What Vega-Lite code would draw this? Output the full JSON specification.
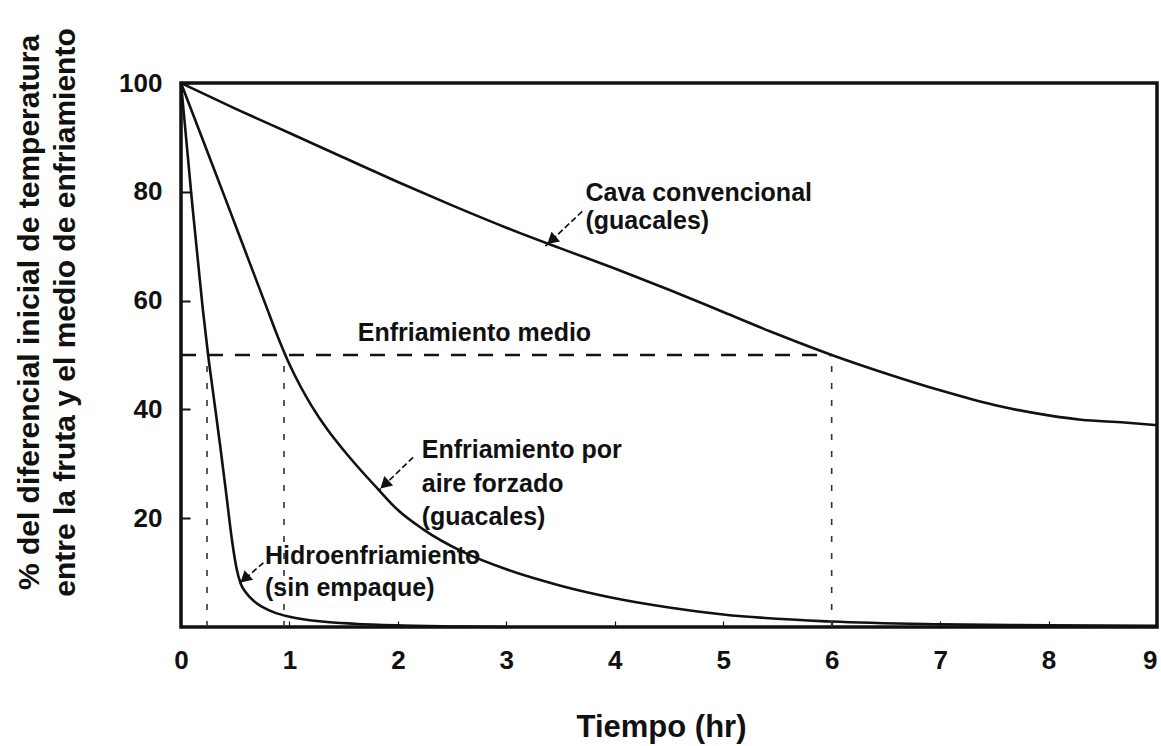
{
  "$schema": "https://vega.github.io/schema/vega-lite/v6.json",
  "width": 976,
  "height": 544,
  "autosize": {"type": "none"},
  "padding": {"left": 181, "top": 83, "right": 4, "bottom": 119},
  "background": "white",
  "config": {
    "font": "Liberation Sans",
    "view": {"stroke": "#111", "strokeWidth": 3.5},
    "axis": {"grid": false, "domain": false, "labelFont": "Liberation Sans", "titleFont": "Liberation Sans", "labelColor": "#111", "titleColor": "#111", "tickColor": "#111"}
  },
  "datasets": {
    "curves": [
      {"serie": "Cava convencional", "t": 0, "pct": 100},
      {"serie": "Cava convencional", "t": 0.5, "pct": 95.3},
      {"serie": "Cava convencional", "t": 1, "pct": 90.8},
      {"serie": "Cava convencional", "t": 1.5, "pct": 86.3},
      {"serie": "Cava convencional", "t": 2, "pct": 81.8},
      {"serie": "Cava convencional", "t": 2.5, "pct": 77.5},
      {"serie": "Cava convencional", "t": 3, "pct": 73.4},
      {"serie": "Cava convencional", "t": 3.5, "pct": 69.6},
      {"serie": "Cava convencional", "t": 4, "pct": 65.9},
      {"serie": "Cava convencional", "t": 4.5, "pct": 62.0},
      {"serie": "Cava convencional", "t": 5, "pct": 57.9},
      {"serie": "Cava convencional", "t": 5.5, "pct": 53.8},
      {"serie": "Cava convencional", "t": 6, "pct": 50.0},
      {"serie": "Cava convencional", "t": 6.5, "pct": 46.6},
      {"serie": "Cava convencional", "t": 7, "pct": 43.5},
      {"serie": "Cava convencional", "t": 7.5, "pct": 40.8},
      {"serie": "Cava convencional", "t": 8, "pct": 38.9},
      {"serie": "Cava convencional", "t": 8.3, "pct": 38.1},
      {"serie": "Cava convencional", "t": 8.7, "pct": 37.6},
      {"serie": "Cava convencional", "t": 9, "pct": 37.1},
      {"serie": "Aire forzado", "t": 0, "pct": 100},
      {"serie": "Aire forzado", "t": 0.2, "pct": 89.6},
      {"serie": "Aire forzado", "t": 0.4, "pct": 79.2},
      {"serie": "Aire forzado", "t": 0.6, "pct": 68.7},
      {"serie": "Aire forzado", "t": 0.8, "pct": 58.2},
      {"serie": "Aire forzado", "t": 0.9, "pct": 53.0},
      {"serie": "Aire forzado", "t": 1.0, "pct": 48.3},
      {"serie": "Aire forzado", "t": 1.1, "pct": 44.3},
      {"serie": "Aire forzado", "t": 1.2, "pct": 40.8},
      {"serie": "Aire forzado", "t": 1.35, "pct": 36.3},
      {"serie": "Aire forzado", "t": 1.5, "pct": 32.5},
      {"serie": "Aire forzado", "t": 1.65, "pct": 29.0},
      {"serie": "Aire forzado", "t": 1.81, "pct": 25.5},
      {"serie": "Aire forzado", "t": 2.0, "pct": 21.5},
      {"serie": "Aire forzado", "t": 2.23, "pct": 18.0},
      {"serie": "Aire forzado", "t": 2.6, "pct": 13.8},
      {"serie": "Aire forzado", "t": 3, "pct": 10.6},
      {"serie": "Aire forzado", "t": 3.5, "pct": 7.6},
      {"serie": "Aire forzado", "t": 4, "pct": 5.3},
      {"serie": "Aire forzado", "t": 4.5, "pct": 3.6},
      {"serie": "Aire forzado", "t": 5, "pct": 2.3},
      {"serie": "Aire forzado", "t": 6, "pct": 1.0},
      {"serie": "Aire forzado", "t": 7, "pct": 0.5},
      {"serie": "Aire forzado", "t": 8, "pct": 0.3},
      {"serie": "Aire forzado", "t": 9, "pct": 0.2},
      {"serie": "Hidroenfriamiento", "t": 0, "pct": 100},
      {"serie": "Hidroenfriamiento", "t": 0.1, "pct": 78.5},
      {"serie": "Hidroenfriamiento", "t": 0.2, "pct": 58.6},
      {"serie": "Hidroenfriamiento", "t": 0.25, "pct": 50.0},
      {"serie": "Hidroenfriamiento", "t": 0.3, "pct": 42.5},
      {"serie": "Hidroenfriamiento", "t": 0.36, "pct": 33.5},
      {"serie": "Hidroenfriamiento", "t": 0.42, "pct": 24.0},
      {"serie": "Hidroenfriamiento", "t": 0.47, "pct": 16.0},
      {"serie": "Hidroenfriamiento", "t": 0.51, "pct": 11.0},
      {"serie": "Hidroenfriamiento", "t": 0.55, "pct": 8.0},
      {"serie": "Hidroenfriamiento", "t": 0.6, "pct": 6.3},
      {"serie": "Hidroenfriamiento", "t": 0.67, "pct": 4.8},
      {"serie": "Hidroenfriamiento", "t": 0.75, "pct": 3.7},
      {"serie": "Hidroenfriamiento", "t": 0.87, "pct": 2.6},
      {"serie": "Hidroenfriamiento", "t": 1.0, "pct": 1.9},
      {"serie": "Hidroenfriamiento", "t": 1.3, "pct": 1.0},
      {"serie": "Hidroenfriamiento", "t": 1.6, "pct": 0.6},
      {"serie": "Hidroenfriamiento", "t": 2.0, "pct": 0.3},
      {"serie": "Hidroenfriamiento", "t": 2.5, "pct": 0.1},
      {"serie": "Hidroenfriamiento", "t": 3.0, "pct": 0.0}
    ],
    "hline": [{"t": 0, "pct": 50, "t2": 6, "pct2": 50}],
    "vlines": [
      {"t": 0.24, "pct": 0, "pct2": 50},
      {"t": 0.95, "pct": 0, "pct2": 50},
      {"t": 6, "pct": 0, "pct2": 50}
    ],
    "arrows": [
      {"t": 3.7, "pct": 76.4, "t2": 3.36, "pct2": 70.0},
      {"t": 2.14, "pct": 31.2, "t2": 1.83, "pct2": 25.2},
      {"t": 0.76, "pct": 11.8, "t2": 0.55, "pct2": 8.2}
    ],
    "heads": [
      {"t": 3.43, "pct": 71.3, "ang": 229},
      {"t": 1.89, "pct": 26.4, "ang": 227},
      {"t": 0.6, "pct": 9.1, "ang": 228}
    ],
    "labels": [
      {"t": 3.73, "pct": 79.8, "label": "Cava convencional"},
      {"t": 3.73, "pct": 74.6, "label": "(guacales)"},
      {"t": 1.63, "pct": 54.0, "label": "Enfriamiento medio"},
      {"t": 2.22, "pct": 32.5, "label": "Enfriamiento por"},
      {"t": 2.22, "pct": 26.3, "label": "aire forzado"},
      {"t": 2.22, "pct": 20.3, "label": "(guacales)"},
      {"t": 0.775, "pct": 13.1, "label": "Hidroenfriamiento"},
      {"t": 0.775, "pct": 7.2, "label": "(sin empaque)"}
    ]
  },
  "layer": [
    {
      "data": {"name": "curves"},
      "mark": {"type": "line", "color": "#111", "strokeWidth": 2.6, "interpolate": "monotone"},
      "encoding": {
        "x": {"field": "t", "type": "quantitative", "scale": {"domain": [0, 9], "nice": false, "zero": false},
          "axis": {"values": [0,1,2,3,4,5,6,7,8,9], "format": "d", "title": "Tiempo (hr)", "titleFontSize": 31, "titleFontWeight": "bold", "titleX": 480, "titleY": 100, "titleBaseline": "middle", "labelFontSize": 26, "labelFontWeight": "bold", "tickSize": -6, "tickWidth": 1.2, "labelPadding": 26, "labelFlush": false, "labelBound": false, "labelOverlap": false,
            "labelAlign": {"condition": {"test": "datum.value == 9", "value": "right"}, "value": "center"}}},
        "y": {"field": "pct", "type": "quantitative", "scale": {"domain": [0, 100], "nice": false},
          "axis": {"values": [20,40,60,80,100], "title": ["% del diferencial inicial de temperatura", "entre la fruta y el medio de enfriamiento"], "titleFontSize": 30, "titleFontWeight": "bold", "titleLineHeight": 36, "titleAngle": -90, "titleX": -152, "titleY": 229, "titleBaseline": "middle", "titleAlign": "center", "labelFontSize": 26, "labelFontWeight": "bold", "tickSize": -9, "tickWidth": 2, "labelPadding": 28, "labelBaseline": "middle", "labelOverlap": false, "labelFlush": false}},
        "detail": {"field": "serie"}
      }
    },
    {
      "data": {"name": "hline"},
      "mark": {"type": "rule", "color": "#111", "strokeWidth": 2.5, "strokeDash": [15, 12]},
      "encoding": {
        "x": {"field": "t", "type": "quantitative"},
        "x2": {"field": "t2"},
        "y": {"field": "pct", "type": "quantitative"},
        "y2": {"field": "pct2"}
      }
    },
    {
      "data": {"name": "vlines"},
      "mark": {"type": "rule", "color": "#333", "strokeWidth": 1.6, "strokeDash": [6, 11]},
      "encoding": {
        "x": {"field": "t", "type": "quantitative"},
        "y": {"field": "pct", "type": "quantitative"},
        "y2": {"field": "pct2"}
      }
    },
    {
      "data": {"name": "arrows"},
      "mark": {"type": "rule", "color": "#111", "strokeWidth": 1.7, "strokeDash": [6, 3]},
      "encoding": {
        "x": {"field": "t", "type": "quantitative"},
        "x2": {"field": "t2"},
        "y": {"field": "pct", "type": "quantitative"},
        "y2": {"field": "pct2"}
      }
    },
    {
      "data": {"name": "heads"},
      "mark": {"type": "point", "shape": "triangle", "filled": true, "color": "#111", "opacity": 1, "size": 170},
      "encoding": {
        "x": {"field": "t", "type": "quantitative"},
        "y": {"field": "pct", "type": "quantitative"},
        "angle": {"field": "ang", "type": "quantitative", "scale": null}
      }
    },
    {
      "data": {"name": "labels"},
      "mark": {"type": "text", "align": "left", "baseline": "middle", "fontSize": 25, "fontWeight": "bold", "color": "#111", "font": "Liberation Sans"},
      "encoding": {
        "x": {"field": "t", "type": "quantitative"},
        "y": {"field": "pct", "type": "quantitative"},
        "text": {"field": "label"}
      }
    }
  ]
}
